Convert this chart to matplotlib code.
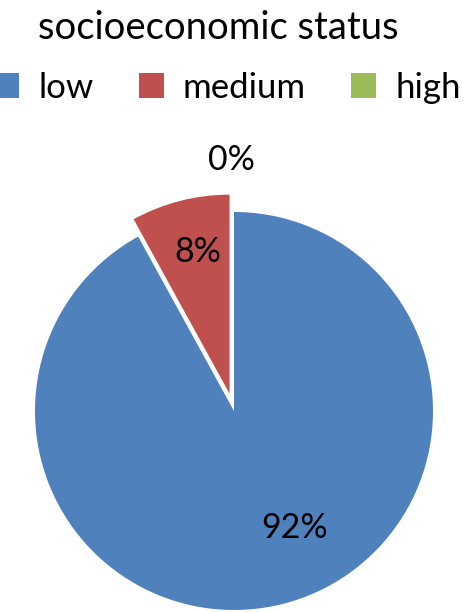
import matplotlib
matplotlib.use("Agg")
import matplotlib.pyplot as plt
from matplotlib.patches import Patch

plt.rcParams['font.family'] = ['Lato', 'DejaVu Sans']

# --- data ---
categories = ['low', 'medium', 'high']
shares = [92, 8, 0]
colors = ['#4F81BD', '#C0504D', '#9BBB59']
explode = [0, 0.09, 0]
# label centres, in pie-radius units (Excel-style placement)
label_pos = [(0.304, -0.588), (-0.181, 0.799), (-0.015, 1.261)]

W, H = 469, 612
fig = plt.figure(figsize=(W / 100, H / 100), dpi=100)

# pie: centre (234, 411) px from top-left, radius 199 px
cx, cy, r = 234, 411, 199
ax = fig.add_axes([(cx - r) / W, (H - cy - r) / H, 2 * r / W, 2 * r / H])
wedges, texts, autotexts = ax.pie(
    shares, colors=colors, explode=explode, startangle=90,
    counterclock=False, radius=1, autopct='%1.0f%%',
    wedgeprops={'linewidth': 0}, textprops={'fontsize': 24.5, 'color': 'black'})
for t, (x, y) in zip(autotexts, label_pos):
    t.set_position((x, y))
    t.set_ha('center')
    t.set_va('center')
    t.set_clip_on(False)
ax.set_xlim(-1, 1)
ax.set_ylim(-1, 1)
ax.set_aspect('equal')
ax.axis('off')
for w in wedges:
    w.set_clip_on(False)

fig.text(218 / W, 1 - 28 / H, 'socioeconomic status', ha='center', va='center',
         fontsize=27.5)

handles = [Patch(facecolor=c, edgecolor='none') for c in colors]
leg = fig.legend(handles, categories, loc='center left', ncol=3,
                 bbox_to_anchor=(-0.012, 1 - 88 / H), frameon=False, fontsize=25,
                 handlelength=0.72, handleheight=0.72, handletextpad=0.55,
                 columnspacing=1.3, borderaxespad=0, borderpad=0)

fig.savefig('out.png', dpi=100)
